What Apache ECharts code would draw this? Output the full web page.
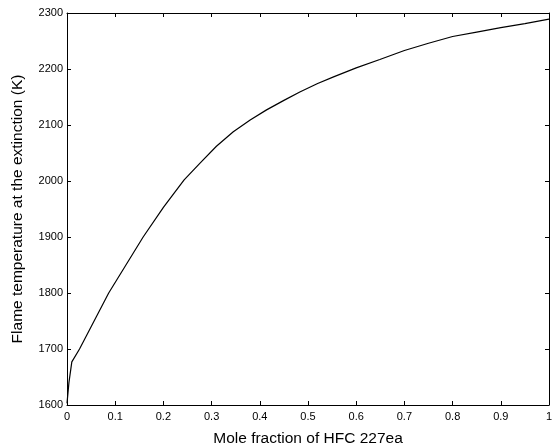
<!DOCTYPE html>
<html>
<head>
<meta charset="utf-8">
<script src="https://cdn.jsdelivr.net/npm/echarts@6/dist/echarts.min.js"></script>
<style>html,body{margin:0;padding:0;background:#fff}#c{width:557px;height:448px}</style>
</head>
<body>
<div id="c"></div>
<script>
var moleFraction = [0, 0.004, 0.01, 0.026, 0.0865, 0.158, 0.2, 0.243, 0.276, 0.31, 0.345, 0.38, 0.414, 0.45, 0.483, 0.52, 0.553, 0.6, 0.649, 0.7, 0.75, 0.8, 0.85, 0.9, 0.95, 1.0];
var flameTemp = [1603, 1640, 1677, 1700, 1800, 1900, 1953, 2002, 2032, 2062, 2088, 2109, 2127, 2144, 2159, 2174, 2186, 2202, 2217, 2233, 2246, 2258, 2266, 2274, 2281, 2289];
var xTicks = [0, 0.1, 0.2, 0.3, 0.4, 0.5, 0.6, 0.7, 0.8, 0.9, 1];
var yTicks = [1600, 1700, 1800, 1900, 2000, 2100, 2200, 2300];

var font = 'Liberation Sans, Arial, sans-serif';
var lineStyle = {color: '#000', width: 1};
function fmtX(v){ return String(Math.round(v*10)/10); }
function fmtY(v){ return String(Math.round(v)); }
var axisCommon = {
  axisLine: {show: true, onZero: false, lineStyle: lineStyle},
  axisTick: {show: true, inside: true, length: 4, lineStyle: lineStyle},
  splitLine: {show: false}
};
var chart = echarts.init(document.getElementById('c'), null, {renderer: 'canvas'});
chart.setOption({
  backgroundColor: '#fff',
  animation: false,
  grid: {left: 67, right: 8, top: 13, bottom: 43, containLabel: false, outerBoundsMode: 'none'},
  xAxis: [
    Object.assign({
      type: 'value', min: xTicks[0], max: xTicks[xTicks.length-1], interval: 0.1, position: 'bottom',
      name: 'Mole fraction of HFC 227ea', nameLocation: 'middle', nameGap: 26,
      nameTextStyle: {fontFamily: font, fontSize: 15.5, color: '#000', verticalAlign: 'top'},
      axisLabel: {fontFamily: font, fontSize: 11, color: '#000', margin: 6, formatter: fmtX}
    }, axisCommon),
    Object.assign({
      type: 'value', min: xTicks[0], max: xTicks[xTicks.length-1], interval: 0.1, position: 'top',
      axisLabel: {show: false}
    }, axisCommon)
  ],
  yAxis: [
    Object.assign({
      type: 'value', min: yTicks[0], max: yTicks[yTicks.length-1], interval: 100, position: 'left',
      name: 'Flame temperature at the extinction (K)', nameLocation: 'middle', nameGap: 41,
      nameTextStyle: {fontFamily: font, fontSize: 15.5, color: '#000'},
      axisLabel: {fontFamily: font, fontSize: 11, color: '#000', margin: 4, formatter: fmtY}
    }, axisCommon),
    Object.assign({
      type: 'value', min: yTicks[0], max: yTicks[yTicks.length-1], interval: 100, position: 'right',
      axisLabel: {show: false}
    }, axisCommon)
  ],
  series: [{
    type: 'line',
    xAxisIndex: 0, yAxisIndex: 0,
    data: moleFraction.map(function(x, i){ return [x, flameTemp[i]]; }),
    showSymbol: false,
    smooth: false,
    lineStyle: {color: '#000', width: 1.2}
  }]
});
</script>
</body>
</html>
